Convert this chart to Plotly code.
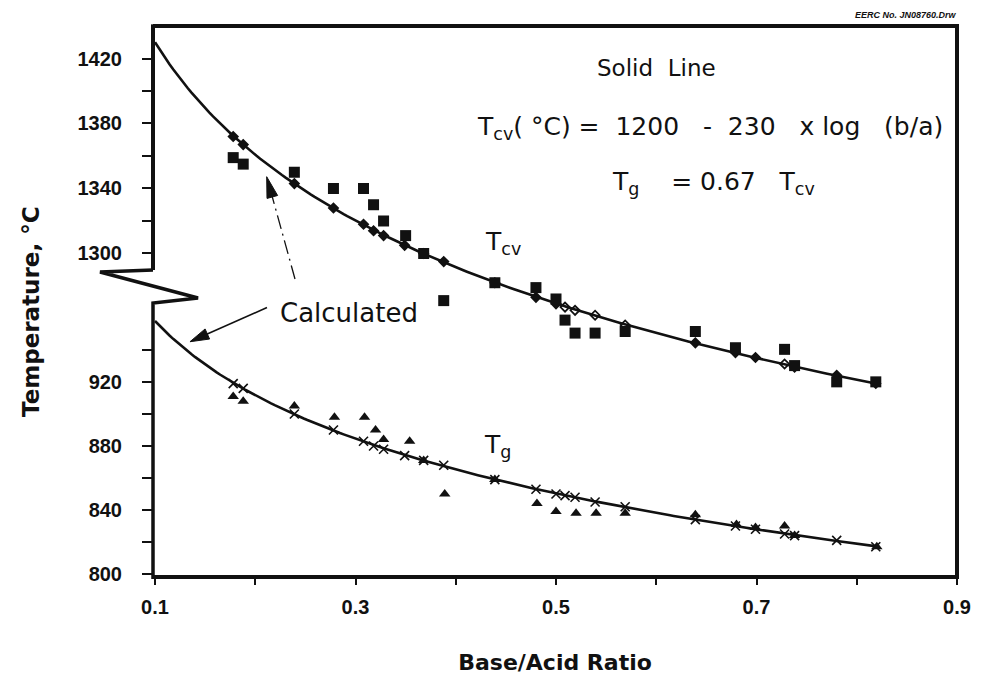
import numpy as np
import plotly.graph_objects as go

# ---- data -------------------------------------------------------------
# Measured T_cv (filled squares), base/acid ratio vs temperature, deg C
meas_ratio = [0.178, 0.188, 0.239, 0.278, 0.308, 0.318, 0.328, 0.350, 0.368, 0.388,
              0.439, 0.480, 0.500, 0.509, 0.519, 0.539, 0.569, 0.639, 0.679, 0.728,
              0.738, 0.780, 0.819]
tcv_meas = [1359, 1355, 1350, 1340, 1340, 1330, 1320, 1311, 1300, 1271,
            1282, 1279, 1272, 1259, 1251, 1251, 1252, 1252, 1242, 1241,
            1231, 1221, 1221]

# Measured T_g (filled triangles)
tg_ratio = [0.178, 0.188, 0.239, 0.279, 0.309, 0.320, 0.328, 0.354, 0.368, 0.389,
            0.439, 0.481, 0.500, 0.520, 0.540, 0.569, 0.639, 0.680, 0.699, 0.728,
            0.738, 0.820]
tg_meas = [911, 908, 905, 898, 898, 890, 884, 883, 871, 850,
           859, 844, 839, 838, 838, 838, 837, 831, 829, 830,
           824, 817]

# Calculated points (diamonds for T_cv, crosses for T_g)
calc_ratio = [0.178, 0.188, 0.239, 0.278, 0.308, 0.318, 0.328, 0.349, 0.368, 0.388,
              0.439, 0.480, 0.500, 0.509, 0.519, 0.539, 0.569, 0.639, 0.679, 0.699,
              0.728, 0.738, 0.780, 0.819]
tcv_calc = [1372, 1367, 1343, 1328, 1318, 1314, 1311, 1305, 1300, 1295,
            1282, 1273, 1269, 1267, 1265, 1262, 1256, 1245, 1239, 1236,
            1232, 1230, 1225, 1220]
tg_calc = [919, 916, 900, 890, 883, 880, 878, 874, 871, 868,
           859, 853, 850, 849, 848, 845, 842, 834, 830, 828,
           825, 824, 821, 817]

# Solid-line relations: Tcv = 1200 - 230 log(b/a), Tg = 0.67 Tcv
TCV_A, TCV_B, TG_FACTOR = 1200.0, 230.0, 0.67
line_ratio = np.linspace(0.1, 0.82, 200)
tcv_line = TCV_A - TCV_B * np.log10(line_ratio)
tg_line = TG_FACTOR * tcv_line

x_major = [0.1, 0.3, 0.5, 0.7, 0.9]
x_minor = [0.2, 0.4, 0.6, 0.8]
tg_major = [800, 840, 880, 920]
tg_minor = [820, 860, 900, 940]
tcv_major = [1300, 1340, 1380, 1420]
tcv_minor = [1320, 1360, 1400]

# ---- figure -----------------------------------------------------------
FONT = "Liberation Sans"
TEXT_FONT = "DejaVu Sans"
BLACK = "#111111"

# plot area in page pixels
L, T, R, B = 153, 26, 957, 577


def px(xp):
    return (xp - L) / (R - L)


def py(yp):
    return (B - yp) / (B - T)


fig = go.Figure()

fig.add_trace(go.Scatter(x=line_ratio, y=tcv_line, mode="lines", yaxis="y2",
                         line=dict(color=BLACK, width=2.6), hoverinfo="skip"))
fig.add_trace(go.Scatter(x=line_ratio, y=tg_line, mode="lines", yaxis="y",
                         line=dict(color=BLACK, width=2.6), hoverinfo="skip"))

open_set = {0.509, 0.519, 0.539, 0.569, 0.728}
diamond_syms = ["diamond-open" if r in open_set else "diamond" for r in calc_ratio]
fig.add_trace(go.Scatter(x=calc_ratio, y=tcv_calc, mode="markers", yaxis="y2",
                         marker=dict(symbol=diamond_syms, size=7, color=BLACK,
                                     line=dict(color=BLACK, width=1.8))))
fig.add_trace(go.Scatter(x=meas_ratio, y=tcv_meas, mode="markers", yaxis="y2",
                         marker=dict(symbol="square", size=11, color=BLACK)))
fig.add_trace(go.Scatter(x=calc_ratio, y=tg_calc, mode="markers", yaxis="y",
                         marker=dict(symbol="x-thin", size=9,
                                     line=dict(color=BLACK, width=1.6))))
fig.add_trace(go.Scatter(x=tg_ratio, y=tg_meas, mode="markers", yaxis="y",
                         marker=dict(symbol="triangle-up", size=10, color=BLACK)))

tickfont = dict(family=FONT, size=20, color=BLACK, weight="bold")
minor_y = dict(ticks="outside", ticklen=10, tickwidth=1.5, tickcolor=BLACK)

fig.update_layout(
    width=987, height=675,
    margin=dict(l=L, r=987 - R, t=T, b=675 - B),
    plot_bgcolor="white", paper_bgcolor="white",
    showlegend=False,
    xaxis=dict(range=[0.098, 0.9], tickmode="array", tickvals=x_major,
               ticks="outside", ticklen=7, tickwidth=1.5, tickcolor=BLACK,
               minor=dict(tickmode="array", tickvals=x_minor, ticks="outside",
                          ticklen=7, tickwidth=1.5, tickcolor=BLACK),
               tickformat=".1f", tickfont=tickfont, ticklabelstandoff=5,
               showgrid=False, zeroline=False, showline=False, automargin=False,
               title=dict(text="Base/Acid Ratio", standoff=42,
                          font=dict(family=TEXT_FONT, size=22, color=BLACK,
                                    weight="bold"))),
    yaxis=dict(range=[798.125, 1142.5], tickmode="array", tickvals=tg_major,
               ticks="outside", ticklen=10, tickwidth=1.5, tickcolor=BLACK,
               minor=dict(tickmode="array", tickvals=tg_minor, **minor_y),
               tickfont=tickfont, ticklabelstandoff=16, automargin=False,
               showgrid=False, zeroline=False, showline=False),
    yaxis2=dict(range=[1100.9, 1440], tickmode="array", tickvals=tcv_major,
                overlaying="y", side="left", anchor="x",
                ticks="outside", ticklen=10, tickwidth=1.5, tickcolor=BLACK,
                minor=dict(tickmode="array", tickvals=tcv_minor, **minor_y),
                tickfont=tickfont, ticklabelstandoff=16, automargin=False,
                showgrid=False, zeroline=False, showline=False),
)

# Frame with a broken left axis
W = 4
for x0, y0, x1, y1 in [(0, 1, 1.0025, 1), (0, 0, 1.0025, 0), (1, 0, 1, 1),
                       (0, 1.003, 0, py(270))]:
    fig.add_shape(type="line", xref="paper", yref="paper",
                  x0=x0, y0=y0, x1=x1, y1=y1, line=dict(color=BLACK, width=W))
zig = [(153, 270), (100, 272), (198, 298), (153, 303), (153, 579)]
fig.add_shape(type="path", xref="paper", yref="paper",
              path="M " + " L ".join(f"{px(a):.4f},{py(b):.4f}" for a, b in zig),
              line=dict(color=BLACK, width=3.5))

# Text
txt = dict(family=TEXT_FONT, color=BLACK)
fig.add_annotation(xref="paper", yref="paper", x=px(31), y=py(312),
                   xanchor="center", yanchor="middle",
                   text="Temperature, °C", textangle=-90, showarrow=False,
                   font=dict(size=23, weight="bold", **txt))
fig.add_annotation(xref="paper", yref="paper", x=px(959), y=py(15),
                   xanchor="right", yanchor="middle",
                   text="<i>EERC No. JN08760.Drw</i>", showarrow=False,
                   font=dict(family=FONT, size=9, color=BLACK, weight="bold"))
fig.add_annotation(xref="paper", yref="paper", x=px(656), y=py(68),
                   xanchor="center", yanchor="middle",
                   text="Solid  Line", showarrow=False, font=dict(size=23, **txt))
fig.add_annotation(xref="paper", yref="paper", x=px(710), y=py(128),
                   xanchor="center", yanchor="middle",
                   text="T<sub>cv</sub>( °C) =  1200   -  230   x log   (b/a)",
                   showarrow=False, font=dict(size=25, **txt))
fig.add_annotation(xref="paper", yref="paper", x=px(713), y=py(183),
                   xanchor="center", yanchor="middle",
                   text="T<sub>g</sub>    = 0.67   T<sub>cv</sub>",
                   showarrow=False, font=dict(size=25, **txt))
fig.add_annotation(xref="paper", yref="paper", x=px(503), y=py(243),
                   xanchor="center", yanchor="middle",
                   text="T<sub>cv</sub>", showarrow=False, font=dict(size=25, **txt))
fig.add_annotation(xref="paper", yref="paper", x=px(497), y=py(446),
                   xanchor="center", yanchor="middle",
                   text="T<sub>g</sub>", showarrow=False, font=dict(size=25, **txt))
fig.add_annotation(xref="paper", yref="paper", x=px(349), y=py(313),
                   xanchor="center", yanchor="middle",
                   text="Calculated", showarrow=False, font=dict(size=26, **txt))


def arrow_head(tip, tail, length, half):
    """Filled triangular head at `tip`, pointing away from `tail` (page px)."""
    tx, ty = tip
    dx, dy = tip[0] - tail[0], tip[1] - tail[1]
    n = (dx * dx + dy * dy) ** 0.5
    ux, uy = dx / n, dy / n
    bx, by = tx - ux * length, ty - uy * length
    pts = [(tx, ty), (bx - uy * half, by + ux * half), (bx + uy * half, by - ux * half)]
    return "M " + " L ".join(f"{px(a):.4f},{py(b):.4f}" for a, b in pts) + " Z"


# Dash-dot pointer to the calculated T_cv points
up_tip, up_tail = (266.7, 176.7), (295, 279)
fig.add_shape(type="line", xref="paper", yref="paper",
              x0=px(up_tail[0]), y0=py(up_tail[1]), x1=px(271.5), y1=py(194),
              line=dict(color=BLACK, width=1.3, dash="14px,5px,2px,5px"))
fig.add_shape(type="path", xref="paper", yref="paper",
              path=arrow_head(up_tip, up_tail, 21, 5.5),
              fillcolor=BLACK, line=dict(color=BLACK, width=1))

# Solid pointer to the T_g curve
lo_tip, lo_tail = (190, 341.7), (267, 307.5)
fig.add_shape(type="line", xref="paper", yref="paper",
              x0=px(lo_tail[0]), y0=py(lo_tail[1]), x1=px(205), y1=py(335),
              line=dict(color=BLACK, width=1.6))
fig.add_shape(type="path", xref="paper", yref="paper",
              path=arrow_head(lo_tip, lo_tail, 19, 5.5),
              fillcolor=BLACK, line=dict(color=BLACK, width=1))

fig.write_html("out.html")
